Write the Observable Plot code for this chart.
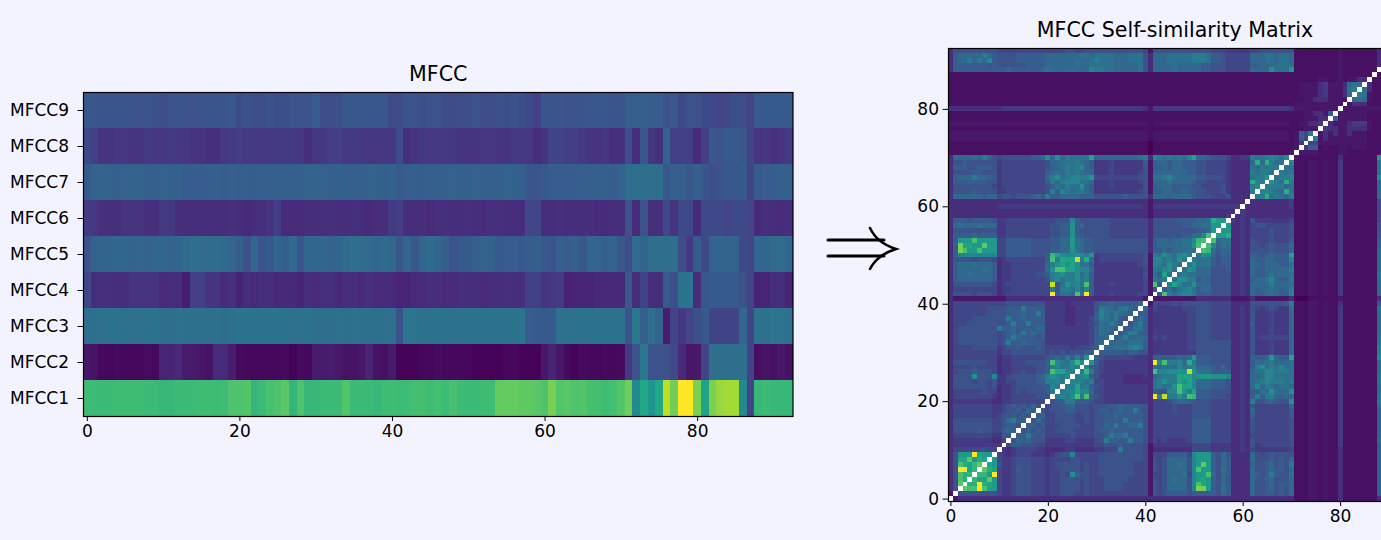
<!DOCTYPE html>
<html>
<head>
<meta charset="utf-8">
<script src="https://cdn.jsdelivr.net/npm/d3@7"></script>
<script src="https://cdn.jsdelivr.net/npm/@observablehq/plot@0.6"></script>
<style>
html,body{margin:0;padding:0;background:#f3f3ff;overflow:hidden}
#page{position:relative;width:1381px;height:540px;overflow:hidden;background:#f3f3ff}
#page>svg,#page>div{position:absolute}
#left,#right{top:0}
#left{left:0;width:800px}
#right{left:908px;width:493px}
#page svg{max-width:none!important}
#arrow{left:0;top:0}
</style>
</head>
<body>
<div id="page">
<div id="left"></div>
<div id="right"></div>
<svg id="arrow" width="1381" height="540" style="pointer-events:none"><g fill="none" stroke="#000" stroke-width="3" stroke-linecap="round"><path d="M828,240H884M828,256H884"/><path d="M870,228Q877,243 896,249Q877,255 870,269" stroke-width="2.5"/></g></svg>
</div>
<script>
const MFCC_LABELS = ["MFCC9","MFCC8","MFCC7","MFCC6","MFCC5","MFCC4","MFCC3","MFCC2","MFCC1"];
const X_TICKS = [0,20,40,60,80];
const Y_TICKS = [0,20,40,60,80];

// Percent positions on the colour scale, frame by frame.
const MFCC9 = [27,27,26,26,26,26,26,25,26,25, 24,25,26,25,25,26,26,26,26,27, 23,25,24,24,25,24,24,26,25,25, 29,24,24,24,27,27,27,27,27,27, 23,23,26,25,24,25,25,24,23,24, 24,25,24,24,25,24,25,24,22,19, 26,26,26,25,26,26,27,27,27,26, 26,29,30,30,29,29,25,27,22,25, 25,22,22,20,22,24,23,20,28,28,28,28,28];
const MFCC8 = [22,19,15,15,16,16,15,15,17,16, 16,17,16,16,15,15,14,14,16,17, 18,17,17,16,17,17,17,17,16,13, 16,17,18,18,17,17,16,16,16,16, 16,23,14,15,17,16,17,16,16,15, 15,15,16,16,15,15,16,17,16,13, 15,20,20,18,18,17,15,15,16,14, 14,24,13,27,16,14,32,19,19,19, 12,18,27,25,28,28,26,20,15,16,14,15,17];
const MFCC7 = [28,31,31,31,30,31,31,31,30,30, 31,30,31,29,29,29,30,30,29,30, 29,30,29,30,30,30,30,30,30,31, 31,31,30,31,30,30,30,31,31,30, 31,28,29,30,29,30,30,30,31,30, 30,31,30,30,30,31,31,30,26,26, 28,29,29,29,29,30,30,30,30,29, 32,35,36,36,36,36,27,30,30,27, 30,26,24,25,27,27,28,20,28,29,29,31,30];
const MFCC6 = [17,16,14,14,14,15,15,15,14,14, 17,17,13,13,13,13,13,13,13,14, 13,12,13,14,15,18,12,12,12,13, 13,14,14,13,13,14,13,12,13,13, 17,18,13,13,13,12,13,14,13,13, 14,13,12,14,14,13,13,13,21,21, 13,13,14,13,13,14,13,12,12,13, 13,25,12,25,14,14,22,15,22,22, 12,22,22,22,20,22,22,20,12,13,13,12,13];
const MFCC5 = [25,31,32,32,33,33,32,33,32,33, 33,32,33,34,36,35,34,35,34,33, 30,25,33,26,28,33,30,34,26,33, 33,33,32,33,34,36,35,34,33,34, 33,27,32,27,33,34,33,30,25,28, 28,30,32,31,28,29,29,28,29,30, 27,26,30,29,31,27,33,32,30,32, 27,23,34,32,36,36,36,36,23,17, 28,22,32,32,32,32,22,20,33,33,34,35,33];
const MFCC4 = [21,13,14,14,13,13,15,15,15,15, 12,13,13,8,18,19,15,15,12,14, 10,13,11,13,13,11,11,12,10,13, 12,14,14,11,13,13,11,14,12,12, 12,10,10,12,12,13,13,12,12,14, 13,13,12,13,13,14,13,13,19,19, 15,16,17,9,10,10,10,11,11,11, 11,27,13,20,13,13,28,24,38,38, 13,26,28,28,28,28,25,20,10,10,13,13,10];
const MFCC3 = [36,37,37,38,38,37,37,37,37,38, 36,36,37,36,37,36,36,37,36,37, 38,38,38,38,38,38,38,37,37,38, 36,36,36,37,36,37,36,37,36,37, 37,25,39,38,38,37,38,38,37,38, 38,38,38,38,38,38,38,38,29,28, 28,28,37,37,37,38,37,38,38,38, 38,25,40,30,36,32,8,20,16,20, 24,28,20,20,20,20,33,20,37,37,39,38,37];
const MFCC2 = [6,5,2,2,3,2,2,2,3,2, 10,10,11,7,7,6,5,12,12,8, 3,2,2,2,2,2,3,1,3,2, 7,7,8,6,5,5,6,10,5,4, 7,1,1,1,2,2,3,2,2,2, 2,1,1,1,1,2,2,1,1,1, 6,10,6,3,1,3,2,2,3,2, 3,17,25,40,25,25,25,22,12,6, 6,20,36,36,36,36,36,20,4,5,4,6,4];
const MFCC1 = [69,68,68,68,69,69,69,69,68,68, 67,67,68,68,68,69,69,68,69,72, 72,73,66,68,71,72,74,66,72,67, 67,68,68,68,73,68,68,68,67,69, 69,68,69,70,70,69,70,68,71,68, 68,68,69,69,76,76,76,75,75,74, 72,79,73,74,72,73,70,70,69,70, 73,78,47,60,52,60,90,78,100,100, 80,58,80,84,86,86,47,20,67,68,67,67,67];
const MFCC_SERIES = [MFCC9,MFCC8,MFCC7,MFCC6,MFCC5,MFCC4,MFCC3,MFCC2,MFCC1];

// Lower triangle of the similarity matrix: row r holds columns 0..r-1.
// One base-36 digit per cell; digit/24 is the position on the colour scale.
const SIMILARITY = [
"",
"2",
"36",
"36i",
"36hf",
"36hfg",
"36ooeg",
"36hfegi",
"36eeidfe",
"36dddoedd",
"3555555655",
"3444444444 4",
"3444444443 35",
"3555555554 476",
"3666667665 5787",
"3666666665 56776",
"3666666665 568a77",
"3555555554 5667676",
"3555555554 45667687",
"3555555554 456767686",
"3444444443 3445555555",
"3555555554 3445555566 6",
"3555555655 3445656666 7a",
"3666666656 3445666667 7ba",
"3666656656 4455666677 aaba",
"36666c666b 4456666678 acbab",
"3566676665 3445565566 7heeba",
"3555565555 3445555566 7ab9aba",
"3666666655 3445556666 7hba9cgb",
"3555555555 3445555555 6787a7a7c",
"3555555555 4556666666 5656566677",
"3555566666 4566766676 5555545556 7",
"3566666666 56a7787776 4444444445 78",
"3566666666 567a877767 4444444445 788",
"3566666666 56787a7877 4444444445 7987",
"3566666666 a778777788 4444444445 79887",
"3555666666 667a77a777 4444334445 698a87",
"3555566666 66a7787777 4444334445 7a98a76",
"3555555566 66777877a7 4444334444 7b98a987",
"3555555566 66777a7777 4444334444 6a9879a87",
"3555555555 5566666666 4444344444 6778777778",
"3222222222 2233333333 3333333333 3333333333 2",
"3666656665 3455555555 5o7998h9o7 4445444445 52",
"3555555555 3445555555 5a6aa9b8b7 4444444444 526",
"3666666665 3455555555 5m69cab9h7 4445444444 52h7",
"3788888887 3445555555 6ab9aac9a7 4444444444 52a9a",
"3788988887 3445555566 7abcaac8a7 4444444444 6297e9",
"3788888987 3445555555 8chheecbb8 4444444444 52a9bc9",
"3788898887 3445555555 8acecec997 4444444445 62ba9ca9",
"3666656665 3455555555 7haeeemaf8 4555555555 62bb9a9ca",
"37bbbbbbbb 5577777666 7gebbbcbad 4555555555 62a9ca9bca",
"37jhddhddd 5577777666 67788c9877 6666666666 6377878899 9",
"37jeeddidd 5577777666 67788d9877 6666666666 6378888899 ch",
"37dddhdddd 5577777666 67788d9877 6666666666 6378878899 bgh",
"3777787777 4455555555 56677c7766 6665555555 5366666677 88bh",
"3666666666 4455555555 56677c7666 6665555555 5366666666 6778d",
"3898889888 4455555555 56677c7866 6665555555 5366666677 8899dd",
"3777677776 4455555555 55666b7666 6665555555 5366666777 7889fdd",
"3333333333 3333333333 3333333333 3333333333 3233333333 33333334",
"3333333333 3333333333 3333333333 3333333333 3233333333 333333333",
"3333333333 4444444444 4444444444 4444444444 3244444444 4444444444",
"3333333333 3333333333 3333333333 3333333333 3233333333 3333333333 3",
"3888888788 5665666786 a778888777 6666667666 6388878888 7666555633 33",
"3666676666 4455555555 6a7b989a87 4444444445 6277887787 7665556433 33a",
"3666666665 4555555555 6798a99c87 4445444444 6278887777 6655556433 33ab",
"3777777766 4555555555 7a8abbb998 4445444445 6288898888 7665555433 33fba",
"37888a8877 4555555555 8ac9abbaad 5555555556 6299ab9888 8776665433 339aac",
"3666677666 4555555555 7898a9a988 4445444445 6288888887 7665555433 33a9aa9",
"3777667776 4555555555 6789a9ab87 4445444444 6277878877 7665555433 3398a9aa",
"3667666666 4555555555 688999a987 4445444444 7278878877 7665555433 338f8fa99",
"3888898a86 5666666778 c8c8a9999e 8888888889 a3ba9a9a9b e887666533 44a99aba9b",
"1111111111 1111111111 1111111111 1111111111 1011111111 1111111111 1111111111 2",
"1111111111 1111111111 1111111111 1111111111 1011111111 1111111111 1111111111 12",
"1111111111 1111111111 1111111111 1111111111 1011111111 1111111111 1111111111 124",
"2222222222 2222222222 2222222222 2222222222 2122222222 2222222222 2222222222 1275",
"2222222222 2222222222 2222222222 2222222222 2122222222 2222222222 2222222222 1275a",
"1111111111 1111111111 1111111111 1111111111 1111111111 1111111111 1111111111 111222",
"2222222222 2222222222 2222222222 2222222222 2122222222 2222222222 2222222222 1122334",
"1111111111 1111111111 1111111111 1111111111 1111111111 1111111111 1111111111 11122233",
"1111111111 1111111111 1111111111 1111111111 1111111111 1111111111 1111111111 111223327",
"3333333333 3444444444 4444444444 4444444444 3244444444 4444444444 4444444444 3222222222",
"1111111111 1111111111 1111111111 1111111111 1111111111 1111111111 1111111111 1222222222 2",
"1111111111 1111111111 1111111111 1111111111 1111111111 1111111111 1111111111 1112233322 22",
"1111111111 1111111111 1111111111 1111111111 1111111111 1111111111 1111111111 1122223422 238",
"1111111111 1111111111 1111111111 1111111111 1111111111 1111111111 1111111111 1122223422 239a",
"1111111111 1111111111 1111111111 1111111111 1111111111 1111111111 1111111111 1122223422 23899",
"1111111111 1111111111 1111111111 1111111111 1111111111 1111111111 1111111111 1111112211 212233",
"1111111111 1111111111 1111111111 1111111111 1111111111 1111111111 1111111111 1111111111 2111111",
"3777777777 7787777778 998899888b aa99888889 6388889888 8877666555 558888c999 d111111111 21111111",
"3777777767 6666667777 8888889889 9999888889 6388889888 8877666555 5577888999 9111111111 211111113",
"3788a8a8b7 6666777777 8888889889 a999888999 6388899999 aaa9776555 5588899899 8111111111 2111111139",
"3788888a87 6666777777 8888888998 9999888999 6388899999 aaa9776555 5588899899 8111111111 2111111139 a",
"3666666666 5555555555 5555665566 6666666666 5266666666 6666555444 4455666666 6111111111 2111111137 88"
];

const frames = d3.range(93);
const scalePct = {type:"linear",scheme:"viridis",domain:[0,1]};
const font = "'DejaVu Sans',sans-serif";
const decode = ch => { const n = ch ? parseInt(ch,36) : 1; return n===2 ? 0.06 : n/24; };

const mfccCells = MFCC_LABELS.flatMap((label,i)=>MFCC_SERIES[i].map((v,x)=>({x,label,t:v/100})));
const left = Plot.plot({
  width:800,height:440,marginLeft:83,marginRight:7.5,marginTop:92,marginBottom:24,
  style:{background:"transparent",fontFamily:font,color:"#000"},
  x:{domain:frames,label:null,padding:0},
  y:{domain:MFCC_LABELS,label:null,padding:0},
  color:scalePct,
  marks:[
    Plot.cell(mfccCells,{x:"x",y:"label",fill:"t",shapeRendering:"crispEdges"}),
    Plot.frame({stroke:"#000",strokeWidth:1.2}),
    Plot.axisX(X_TICKS,{anchor:"bottom",tickSize:5,tickPadding:3,label:null,fontSize:17,stroke:"#000",fill:"#000"}),
    Plot.axisY(MFCC_LABELS,{anchor:"left",tickSize:5.5,tickPadding:9,label:null,fontSize:17,stroke:"#000",fill:"#000"}),
    Plot.text(["MFCC"],{frameAnchor:"top",dy:-26,fontSize:20.6,fill:"#000",textAnchor:"middle",lineAnchor:"top"})
  ]
});
document.getElementById("left").appendChild(left);

const simCells = [], diagCells = [];
const clean = SIMILARITY.map(s=>s.replace(/ /g,""));
for (const r of frames) for (const c of frames) {
  if (r===c) { diagCells.push({r,c}); continue; }
  const hi=Math.max(r,c), lo=Math.min(r,c);
  simCells.push({r,c,t:decode(clean[hi][lo])});
}
const right = Plot.plot({
  width:493,height:530,marginLeft:40,marginRight:0,marginTop:48,marginBottom:29,
  style:{background:"transparent",fontFamily:font,color:"#000"},
  x:{domain:frames,label:null,padding:0},
  y:{domain:frames.slice().reverse(),label:null,padding:0},
  color:scalePct,
  marks:[
    Plot.cell(simCells,{x:"c",y:"r",fill:"t",shapeRendering:"crispEdges"}),
    Plot.cell(diagCells,{x:"c",y:"r",fill:"white",shapeRendering:"crispEdges"}),
    Plot.frame({stroke:"#000",strokeWidth:1.2}),
    Plot.axisX(X_TICKS,{anchor:"bottom",tickSize:5,tickPadding:3,label:null,fontSize:17,stroke:"#000",fill:"#000"}),
    Plot.axisY(Y_TICKS,{anchor:"left",tickSize:5.5,tickPadding:4,label:null,fontSize:17,stroke:"#000",fill:"#000"}),
    Plot.text(["MFCC Self-similarity Matrix"],{frameAnchor:"top",dy:-26,fontSize:20.6,fill:"#000",textAnchor:"middle",lineAnchor:"top"})
  ]
});
document.getElementById("right").appendChild(right);
</script>
</body>
</html>
